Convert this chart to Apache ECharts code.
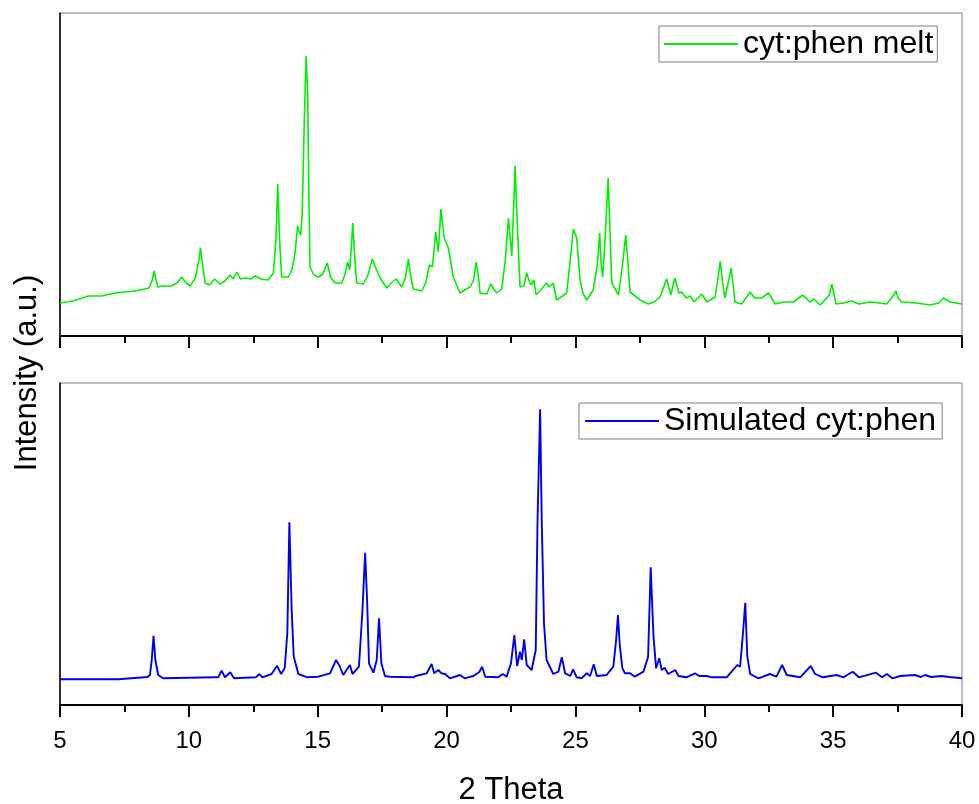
<!DOCTYPE html>
<html>
<head>
<meta charset="utf-8">
<script src="https://cdn.jsdelivr.net/npm/echarts@6/dist/echarts.min.js"></script>
<style>
html,body{margin:0;padding:0;background:#fff;}
#chart{width:979px;height:804px;}
</style>
</head>
<body>
<div id="chart"></div>
<script>
// x-axis ticks
var xTicks = [5, 10, 15, 20, 25, 30, 35, 40];

// Experimental pattern: cyt:phen melt (2 Theta, intensity in a.u.)
var meltTheta = [5.0,5.5,6.1,6.6,7.13,7.5,7.9,8.3,8.45,8.58,8.65,8.72,8.8,9.0,9.3,9.55,9.72,9.9,10.05,10.25,10.38,10.45,10.52,10.63,10.8,11.0,11.2,11.4,11.6,11.72,11.86,12.0,12.2,12.4,12.57,12.8,13.08,13.28,13.38,13.45,13.52,13.6,13.86,14.0,14.12,14.22,14.28,14.34,14.4,14.48,14.55,14.61,14.65,14.7,14.85,15.02,15.2,15.37,15.5,15.67,15.93,16.05,16.16,16.24,16.3,16.36,16.42,16.51,16.77,16.95,17.12,17.25,17.42,17.55,17.68,17.85,18.04,18.26,18.4,18.52,18.6,18.71,19.04,19.2,19.33,19.45,19.58,19.68,19.78,19.85,19.91,20.07,20.26,20.52,20.7,20.91,21.05,21.15,21.25,21.3,21.56,21.72,21.85,21.95,22.14,22.28,22.4,22.53,22.6,22.66,22.72,22.85,23.0,23.11,23.22,23.28,23.39,23.47,23.65,23.88,23.98,24.14,24.27,24.5,24.66,24.8,24.92,25.05,25.18,25.3,25.44,25.69,25.85,25.94,26.0,26.06,26.15,26.27,26.34,26.41,26.67,26.85,26.95,27.03,27.12,27.51,27.83,28.05,28.28,28.54,28.7,28.86,29.02,29.12,29.3,29.45,29.6,29.9,30.1,30.42,30.55,30.62,30.7,30.8,30.95,31.04,31.12,31.19,31.45,31.78,31.95,32.23,32.49,32.75,33.1,33.46,33.82,34.1,34.25,34.5,34.85,34.95,35.04,35.11,35.4,35.72,36.0,36.43,36.8,37.08,37.35,37.44,37.52,37.66,38.24,38.76,39.1,39.28,39.54,40.0];
var meltIntensity = [33,35,40,40,43,44,45,47,48,56,65,57,49,50,50,53,59,53,50,58,74,88,74,53,51,57,52,55,61,57,64,57,58,57,60,57,56,63,96,152,96,59,59,66,83,110,104,101,123,216,280,243,156,69,61,59,62,73,59,53,53,61,74,66,86,113,86,53,52,61,77,68,58,53,48,53,57,49,58,77,61,47,45,54,71,69,104,84,127,111,98,88,59,43,46,49,56,74,56,43,42,52,46,43,47,76,118,80,126,170,126,49,50,63,54,51,56,41,46,53,49,53,36,40,43,76,107,98,56,42,36,46,71,103,71,59,96,158,106,53,41,76,101,76,44,36,32,34,39,57,41,58,43,44,38,40,34,42,34,39,61,75,56,38,56,68,51,34,32,44,38,38,43,32,34,34,41,34,37,31,41,52,41,32,33,35,32,34,33,32,41,45,38,34,33,31,33,38,34,32];

// Simulated pattern: cyt:phen (2 Theta, intensity in a.u.)
var simTheta = [5.0,7.26,7.3,8.4,8.49,8.56,8.63,8.7,8.81,9.0,11.0,11.14,11.27,11.4,11.61,11.75,12.6,12.74,12.85,13.21,13.42,13.58,13.72,13.82,13.9,13.99,14.07,14.25,14.6,15.02,15.48,15.71,15.83,15.99,16.25,16.35,16.6,16.73,16.84,16.92,16.99,17.16,17.29,17.38,17.47,17.61,17.81,18.71,18.8,19.23,19.42,19.52,19.68,19.8,19.94,20.13,20.52,20.7,21.04,21.27,21.38,21.5,22.01,22.18,22.33,22.5,22.63,22.74,22.85,22.92,23.01,23.11,23.3,23.46,23.53,23.63,23.69,23.78,23.88,24.14,24.34,24.47,24.6,24.8,24.91,25.05,25.24,25.44,25.57,25.71,25.83,26.21,26.47,26.58,26.65,26.72,26.82,26.92,27.12,27.3,27.64,27.82,27.92,28.03,28.13,28.25,28.35,28.46,28.6,28.87,29.0,29.3,29.64,29.8,30.09,30.3,30.87,31.06,31.28,31.39,31.49,31.59,31.67,31.78,32.1,32.55,32.8,33.02,33.2,33.72,34.13,34.3,34.6,35.14,35.4,35.76,36.0,36.66,36.9,37.08,37.3,37.6,38.18,38.4,38.57,38.8,39.2,39.5,40.0];
var simIntensity = [25.7,25.7,27.7,28,30,45,69.3,45,30,26.7,27.7,27.7,34.3,27.7,32.7,26.7,27.7,31,27.7,31,39.3,31,37,72,182.7,95,48.3,31,27.7,28.3,31.7,45,40,30,40,31,38.3,91.7,152.3,101.7,41.7,32.3,45,86.7,41.7,29,28.3,27.7,29,31.7,41,31.7,35,31.7,31,26.7,30,26.7,29,33,38.3,28.3,27.7,31,28.3,41.7,70,39,53.3,45,65.7,40,35,55,185,295.7,188.3,81.7,45,31,33.3,47.7,31.7,29,35.7,27.7,26.7,31.7,29,40.7,29,30,38.3,65,90,60,37,31.7,31.7,28.3,33.3,48.3,137.7,68.3,36.7,46.7,35,37.3,31,35,29,27.7,31.7,29,29,27.7,27.7,33.3,40,38.3,68.3,102.3,48.3,31,26.7,31,28.3,40,30,27.7,39,31,27.7,30,27.7,33.3,27.7,32.3,27.7,31,26.7,29,30,28,30,28,29,28,26.7];

function pairs(xs, ys) { return xs.map(function (x, i) { return [x, ys[i]]; }); }

var FONT = '"Liberation Sans", Arial, sans-serif';
var chart = echarts.init(document.getElementById('chart'), null, {renderer: 'canvas'});

function xAxisCfg(gridIndex, showLabels) {
  return {
    type: 'value', gridIndex: gridIndex, min: 5, max: 40, interval: 5,
    axisLine: {show: true, onZero: false, lineStyle: {color: '#000', width: 2}},
    axisTick: {show: true, inside: false, length: 12, lineStyle: {color: '#000', width: 2}},
    minorTick: {show: true, splitNumber: 2, length: 7, lineStyle: {color: '#000', width: 2}},
    splitLine: {show: false}, minorSplitLine: {show: false},
    axisLabel: {show: showLabels, fontSize: 24, color: '#000', fontFamily: FONT, margin: 24,
      formatter: function (v) { return xTicks.indexOf(v) >= 0 ? String(v) : ''; }},
    name: showLabels ? '2 Theta' : '', nameLocation: 'middle', nameGap: 70,
    nameTextStyle: {fontSize: 31, color: '#000', fontFamily: FONT}
  };
}
function yAxisCfg(gridIndex, max) {
  return {
    type: 'value', gridIndex: gridIndex, min: 0, max: max,
    axisLine: {show: true, lineStyle: {color: '#000', width: 1.5}},
    axisTick: {show: false}, axisLabel: {show: false}, splitLine: {show: false}
  };
}
function legendCfg(name, left, top, pad) {
  return {
    data: [name], left: left, top: top, orient: 'horizontal',
    itemWidth: 74, itemHeight: 14, itemGap: 0,
    padding: pad, borderColor: '#808080', borderWidth: 1, backgroundColor: '#fff',
    itemStyle: {opacity: 0},
    textStyle: {fontSize: 32, color: '#000', fontFamily: FONT, padding: [2, 0, 0, 0]},
    selectedMode: false
  };
}

chart.setOption({
  animation: false,
  backgroundColor: '#fff',
  grid: [
    {left: 60, right: 17, top: 13, height: 323, show: true, borderColor: '#808080', borderWidth: 1,
      containLabel: false, outerBoundsMode: 'none'},
    {left: 60, right: 17, top: 383, height: 322, show: true, borderColor: '#808080', borderWidth: 1,
      containLabel: false, outerBoundsMode: 'none'}
  ],
  xAxis: [xAxisCfg(0, false), xAxisCfg(1, true)],
  yAxis: [yAxisCfg(0, 323), yAxisCfg(1, 322)],
  legend: [
    legendCfg('cyt:phen melt', 659, 26, [2, 4, 2, 4]),
    legendCfg('Simulated cyt:phen', 579, 403, [2, 6, 2, 5])
  ],
  graphic: [{
    type: 'text', x: 27, y: 373, rotation: Math.PI / 2,
    style: {text: 'Intensity (a.u.)', font: '31px ' + FONT, fill: '#000',
      textAlign: 'center', textVerticalAlign: 'middle'}
  }],
  series: [
    {name: 'cyt:phen melt', type: 'line', xAxisIndex: 0, yAxisIndex: 0, symbol: 'none', showSymbol: false,
      lineStyle: {color: '#00f000', width: 1.6}, itemStyle: {color: '#00f000'}, data: pairs(meltTheta, meltIntensity)},
    {name: 'Simulated cyt:phen', type: 'line', xAxisIndex: 1, yAxisIndex: 1, symbol: 'none', showSymbol: false,
      lineStyle: {color: '#0000ee', width: 1.9}, itemStyle: {color: '#0000ee'}, data: pairs(simTheta, simIntensity)}
  ]
});
</script>
</body>
</html>
